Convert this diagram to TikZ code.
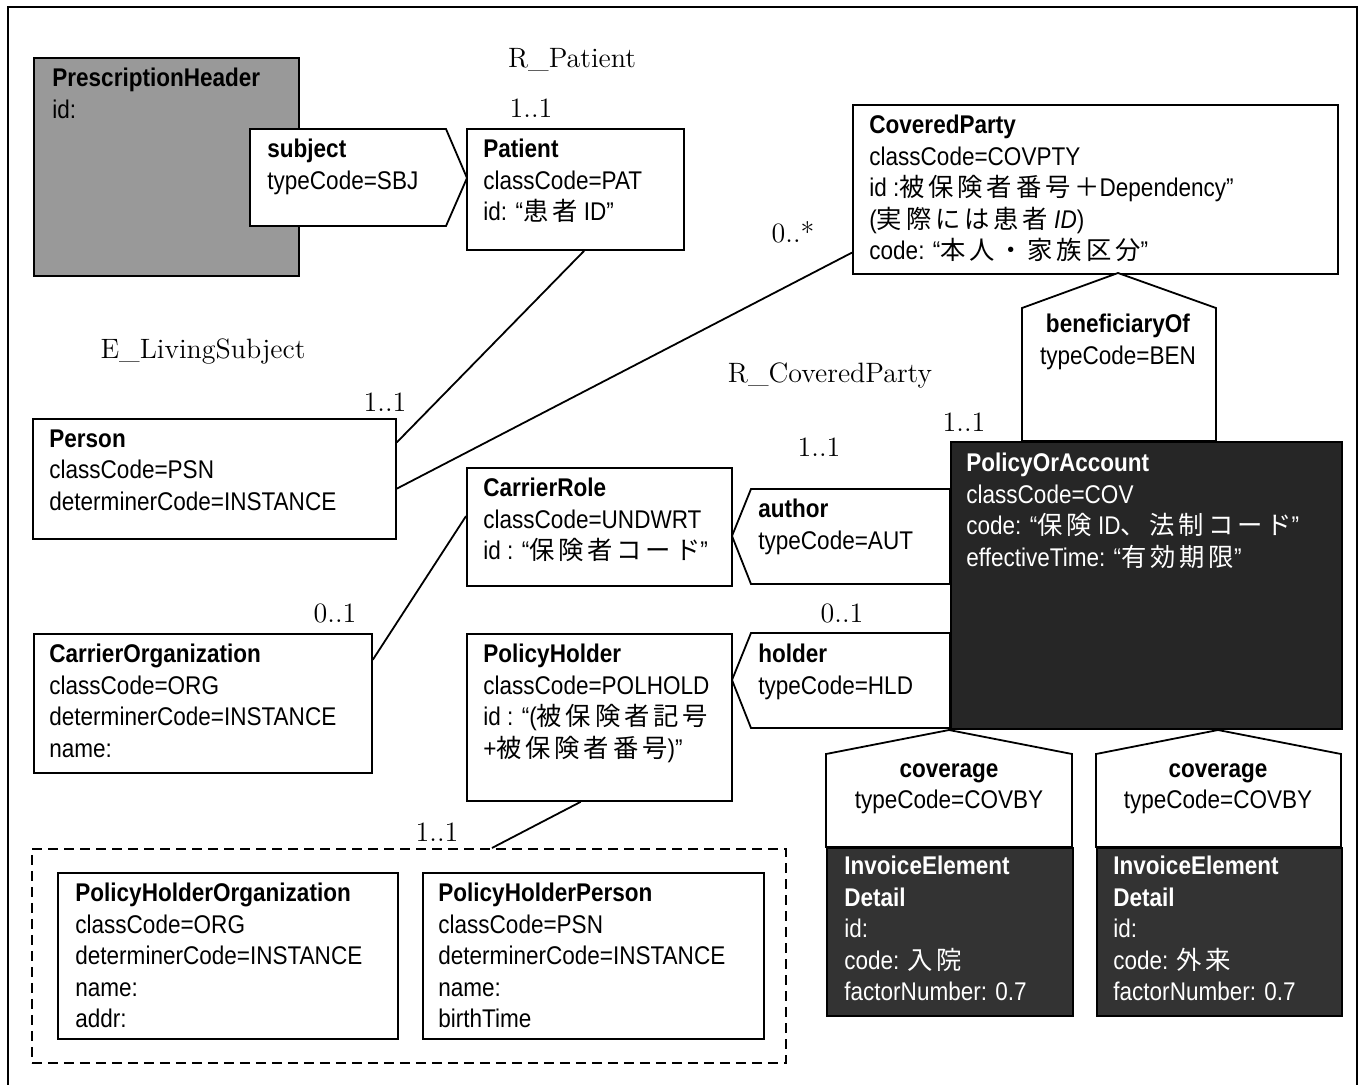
\documentclass[tikz,border=0pt]{standalone}
\usepackage{fontspec}
\setsansfont[FakeStretch=0.88]{Liberation Sans}
\newfontfamily\jafont[Scale=0.99,LetterSpace=15]{Noto Sans CJK JP}
\newcommand\ja[1]{{\jafont #1}}
\usetikzlibrary{calc}
\newcommand\attrfont{\sffamily\fontsize{12.8}{15.75}\selectfont}
\newcommand\lblfont{\rmfamily\fontsize{14}{16}\selectfont}
\tikzset{
  cls/.style    = {draw, line width=0.9pt, fill=white, rectangle,
                   anchor=north west, inner sep=0pt},
  act/.style    = {cls, fill=black!40},
  dark/.style   = {cls, fill=black!85},
  grpbox/.style = {cls, fill=none, dash pattern=on 5pt off 3pt, line width=0.8pt},
  assoc/.style  = {draw, line width=0.9pt, fill=white},
  attr/.style   = {anchor=north west, inner sep=0pt, align=left, font=\attrfont},
  lbl/.style    = {inner sep=0pt, font=\lblfont},
  link/.style   = {line width=0.9pt},
}
\begin{document}
\begin{tikzpicture}[x=0.5pt,y=-0.5pt]
\useasboundingbox (0,0) rectangle (1367,1084);
% outer frame
\draw[line width=1pt] (8,1090) -- (8,7) -- (1357,7) -- (1357,1090);

% act and subject
\node[act, minimum width=132.5pt, minimum height=109pt] (header) at (33,57) {};
\node[attr] (header-t) at ([shift={(9.5pt,-5.5pt)}]header.north west)
  {\textbf{PrescriptionHeader}\\id:};
\draw[assoc] (250,129) -- (446,129) -- (467,178) -- (446,226) -- (250,226) -- cycle;
\node[attr] (subject-t) at (267,139) {\textbf{subject}\\typeCode=SBJ};

% R_Patient
\node[cls, minimum width=108.5pt, minimum height=60.5pt] (patient) at (466,128) {};
\node[attr] (patient-t) at ([shift={(8.5pt,-5.5pt)}]patient.north west)
  {\textbf{Patient}\\classCode=PAT\\id: “\ja{患者} ID”};
\node[lbl] (rpatient) at (572,60) {R\_Patient};
\node[lbl] (m-patient) at (531,108) {1..1};

% R_CoveredParty
\node[cls, minimum width=242.5pt, minimum height=84.5pt] (covered) at (852,104) {};
\node[attr] (covered-t) at ([shift={(8.5pt,-5.5pt)}]covered.north west)
  {\textbf{CoveredParty}\\classCode=COVPTY\\id :\ja{被保険者番号＋}Dependency”\\
   (\ja{実際には患者} \textit{ID})\\code: “\ja{本人・家族区分}”};
\draw[assoc] (1118,273) -- (1216,308) -- (1216,441) -- (1022,441) -- (1022,308) -- cycle;
\node[attr, anchor=north, align=center] (benef-t) at (1118,314)
  {\textbf{beneficiaryOf}\\typeCode=BEN};
\node[lbl] (m-covered) at (793,232) {0..*};
\node[lbl] (rcovered) at (830,375) {R\_CoveredParty};

% E_LivingSubject
\node[cls, minimum width=181.5pt, minimum height=60pt] (person) at (32,418) {};
\node[attr] (person-t) at ([shift={(8.5pt,-5.5pt)}]person.north west)
  {\textbf{Person}\\classCode=PSN\\determinerCode=INSTANCE};
\node[lbl] (eliving) at (203,352) {E\_LivingSubject};
\node[lbl] (m-person) at (385,402) {1..1};

% carrier
\node[cls, minimum width=132.5pt, minimum height=59pt] (carrierrole) at (466,467) {};
\node[attr] (carrierrole-t) at ([shift={(8.5pt,-5.5pt)}]carrierrole.north west)
  {\textbf{CarrierRole}\\classCode=UNDWRT\\id : “\ja{保険者コード}”};
\node[cls, minimum width=169pt, minimum height=69.5pt] (carrierorg) at (33,633) {};
\node[attr] (carrierorg-t) at ([shift={(8pt,-5.5pt)}]carrierorg.north west)
  {\textbf{CarrierOrganization}\\classCode=ORG\\determinerCode=INSTANCE\\name:};
\node[lbl] (m-carrierorg) at (335,613) {0..1};

% author and holder
\draw[assoc] (950,489) -- (751,489) -- (732,536) -- (751,584) -- (950,584) -- cycle;
\node[attr] (author-t) at (758,499) {\textbf{author}\\typeCode=AUT};
\draw[assoc] (950,633) -- (751,633) -- (732,680) -- (751,728) -- (950,728) -- cycle;
\node[attr] (holder-t) at (758,644) {\textbf{holder}\\typeCode=HLD};
\node[lbl] (m-author) at (819,447) {1..1};
\node[lbl] (m-holder) at (842,613) {0..1};

% policy
\node[dark, minimum width=195.5pt, minimum height=143.5pt] (policy) at (950,441) {};
\node[attr, text=white] (policy-t) at ([shift={(8pt,-6pt)}]policy.north west)
  {\textbf{PolicyOrAccount}\\classCode=COV\\code: “\ja{保険} ID\ja{、法制コード}”\\
   effectiveTime: “\ja{有効期限}”};
\node[lbl] (m-policy) at (964,422) {1..1};

% policy holder
\node[cls, minimum width=132.5pt, minimum height=83.5pt] (polholder) at (466,633) {};
\node[attr] (polholder-t) at ([shift={(8.5pt,-5.5pt)}]polholder.north west)
  {\textbf{PolicyHolder}\\classCode=POLHOLD\\id : “(\ja{被保険者記号}\\+\ja{被保険者番号})”};
\node[grpbox, minimum width=377pt, minimum height=107pt] (holdergroup) at (31,848) {};
\node[cls, minimum width=170pt, minimum height=83pt] (holderorg) at (57,872) {};
\node[attr] (holderorg-t) at ([shift={(9pt,-5.5pt)}]holderorg.north west)
  {\textbf{PolicyHolderOrganization}\\classCode=ORG\\determinerCode=INSTANCE\\name:\\addr:};
\node[cls, minimum width=170.5pt, minimum height=83pt] (holderperson) at (422,872) {};
\node[attr] (holderperson-t) at ([shift={(8pt,-5.5pt)}]holderperson.north west)
  {\textbf{PolicyHolderPerson}\\classCode=PSN\\determinerCode=INSTANCE\\name:\\birthTime};
\node[lbl] (m-holdergroup) at (437,832) {1..1};

% coverage
\draw[assoc] (949,730) -- (1072,754) -- (1072,847) -- (826,847) -- (826,754) -- cycle;
\node[attr, anchor=north, align=center] (cov1-t) at (949,763)
  {\textbf{coverage}\\typeCode=COVBY};
\node[dark, fill=black!80, minimum width=123pt, minimum height=84pt] (detail1) at (826,847) {};
\node[attr, text=white] (detail1-t) at ([shift={(9pt,-4.5pt)}]detail1.north west)
  {\textbf{InvoiceElement}\\\textbf{Detail}\\id:\\code: \ja{入院}\\factorNumber: 0.7};
\draw[assoc] (1218,730) -- (1341,754) -- (1341,847) -- (1096,847) -- (1096,754) -- cycle;
\node[attr, anchor=north, align=center] (cov2-t) at (1218,763)
  {\textbf{coverage}\\typeCode=COVBY};
\node[dark, fill=black!80, minimum width=122.5pt, minimum height=84pt] (detail2) at (1096,847) {};
\node[attr, text=white] (detail2-t) at ([shift={(8.5pt,-4.5pt)}]detail2.north west)
  {\textbf{InvoiceElement}\\\textbf{Detail}\\id:\\code: \ja{外来}\\factorNumber: 0.7};

% associations
\draw[link] ($(patient.south west)!0.54!(patient.south east)$)
  -- ($(person.north east)!0.2!(person.south east)$);
\draw[link] ($(person.north east)!0.58!(person.south east)$)
  -- ($(covered.north west)!0.87!(covered.south west)$);
\draw[link] ($(carrierrole.north west)!0.41!(carrierrole.south west)$)
  -- ($(carrierorg.north east)!0.19!(carrierorg.south east)$);
\draw[link] ($(polholder.south west)!0.43!(polholder.south east)$)
  -- ($(holdergroup.north west)!0.61!(holdergroup.north east)$);
\end{tikzpicture}
\end{document}
